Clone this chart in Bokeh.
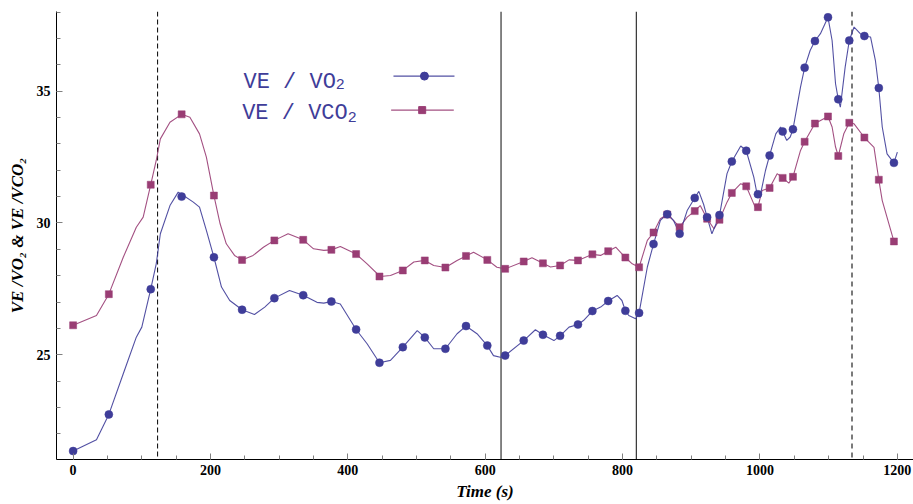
from bokeh.plotting import figure
from bokeh.models import Range1d, SingleIntervalTicker, Span, Label
from bokeh.embed import file_html
from bokeh.resources import INLINE

# ---------------- data ----------------
vo2_line_t = [0, 34, 52, 73, 92, 100, 113, 121, 127, 141, 153, 160, 175, 184, 194, 205, 216, 228, 246, 264,
              279, 293, 315, 335, 355, 365, 376, 389, 412, 428, 446, 462, 480, 501, 512, 525, 542, 559, 572, 588,
              603, 612, 622, 629, 656, 673, 684, 700, 709, 722, 735, 743, 756, 768, 779, 792, 799, 804, 809, 819,
              824, 836, 845, 855, 865, 874, 883, 894, 905, 911, 918, 923, 930, 941, 952, 959, 972, 980, 991, 996,
              1001, 1008, 1014, 1023, 1030, 1033, 1039, 1044, 1048, 1059, 1065, 1073, 1080, 1088, 1099, 1105,
              1110, 1114, 1117, 1124, 1130, 1137, 1146, 1152, 1161, 1168, 1173, 1178, 1185, 1195, 1200]
vo2_line_v = [21.35, 21.78, 22.74, 24.28, 25.67, 26.05, 27.49, 28.45, 29.59, 30.66, 31.17, 31.05, 30.79, 30.60,
              29.72, 28.70, 27.57, 27.06, 26.71, 26.53, 26.81, 27.15, 27.44, 27.26, 26.99, 26.96, 27.02, 26.93,
              25.96, 25.42, 24.70, 24.79, 25.29, 25.92, 25.66, 25.23, 25.23, 25.80, 26.09, 25.80, 25.35, 24.97,
              24.91, 24.97, 25.54, 25.95, 25.76, 25.54, 25.72, 26.05, 26.15, 26.30, 26.66, 26.81, 27.04, 27.25,
              27.06, 26.67, 26.49, 26.37, 26.59, 28.33, 29.20, 30.10, 30.35, 30.10, 29.59, 30.47, 30.95, 31.20,
              30.70, 30.22, 29.59, 30.28, 31.87, 32.33, 32.92, 32.74, 31.74, 31.07, 31.11, 31.99, 32.56, 33.38,
              33.64, 33.47, 33.13, 33.26, 33.55, 35.15, 35.89, 36.54, 36.90, 37.18, 37.80, 36.92, 35.28, 34.69,
              34.39, 35.91, 36.92, 37.43, 37.18, 37.09, 37.05, 36.17, 35.12, 33.64, 32.62, 32.28, 32.69]

vco2_line_t = [0, 34, 52, 73, 92, 102, 113, 121, 127, 141, 158, 170, 184, 194, 205, 214, 223, 235, 246, 262,
               277, 293, 313, 335, 350, 365, 376, 389, 412, 428, 447, 462, 480, 496, 512, 525, 542, 559, 572, 583,
               603, 617, 629, 656, 668, 684, 695, 709, 722, 735, 756, 768, 779, 790, 804, 814, 824, 836, 845, 855,
               865, 874, 883, 894, 905, 913, 923, 933, 941, 952, 959, 972, 980, 993, 997, 1003, 1014, 1025, 1033,
               1042, 1048, 1059, 1065, 1080, 1099, 1105, 1110, 1114, 1122, 1130, 1137, 1152, 1166, 1173, 1178, 1195]
vco2_line_v = [26.12, 26.49, 27.30, 28.70, 29.84, 30.22, 31.45, 32.37, 33.19, 33.82, 34.12, 34.01, 33.38, 32.50,
               31.04, 29.97, 29.21, 28.77, 28.60, 28.77, 29.08, 29.34, 29.59, 29.36, 29.02, 28.96, 28.98, 29.11,
               28.82, 28.45, 27.97, 28.01, 28.20, 28.52, 28.58, 28.39, 28.31, 28.58, 28.75, 28.89, 28.60, 28.32,
               28.26, 28.54, 28.68, 28.47, 28.33, 28.39, 28.60, 28.58, 28.81, 28.77, 28.93, 29.08, 28.69, 28.45,
               28.32, 29.34, 29.64, 30.16, 30.32, 30.10, 29.84, 30.22, 30.45, 30.66, 30.16, 29.78, 30.12, 30.79,
               31.14, 31.49, 31.39, 30.60, 30.60, 31.23, 31.33, 31.87, 31.71, 31.51, 31.75, 32.75, 33.08, 33.77,
               34.04, 33.64, 32.88, 32.54, 33.38, 33.80, 33.76, 33.24, 32.87, 31.64, 30.85, 29.30]

mark_t = [0, 52, 113, 158, 205, 246, 293, 335, 376, 412, 446, 480, 512, 542, 572, 603, 629, 656, 684, 709,
          735, 756, 779, 804, 824, 845, 865, 883, 905, 923, 941, 959, 980, 997, 1014, 1033, 1048, 1065, 1080,
          1099, 1114, 1130, 1152, 1173, 1195]
vo2_mark = [21.35, 22.74, 27.49, 31.00, 28.70, 26.71, 27.15, 27.26, 27.02, 25.96, 24.70, 25.29, 25.66, 25.23,
            26.09, 25.35, 24.97, 25.54, 25.76, 25.72, 26.15, 26.66, 27.04, 26.67, 26.59, 29.20, 30.33, 29.59,
            30.95, 30.22, 30.30, 32.33, 32.74, 31.09, 32.56, 33.47, 33.55, 35.89, 36.90, 37.80, 34.69, 36.92,
            37.09, 35.12, 32.28]
vco2_mark = [26.12, 27.30, 31.45, 34.12, 31.04, 28.60, 29.34, 29.36, 28.98, 28.82, 27.97, 28.20, 28.58, 28.31,
             28.75, 28.60, 28.26, 28.54, 28.47, 28.39, 28.58, 28.81, 28.93, 28.69, 28.32, 29.64, 30.32, 29.84,
             30.45, 30.16, 30.12, 31.14, 31.39, 30.60, 31.33, 31.71, 31.75, 33.08, 33.77, 34.04, 32.54, 33.80,
             33.24, 31.64, 29.30]

dashed_events = [123]
solid_events = [623, 820]
gray_dashed_events = [1134]

series_main = ["VE / VO", "VE / VCO"]
series_sub = ["2", "2"]
x_title = "Time (s)"
y_title = "VE /VO₂ & VE /VCO₂"

# ---------------- style ----------------
BLUE = "#3f3d99"
MAG = "#993d74"
SERIF = "Liberation Serif"

p = figure(width=913, height=504,
           x_range=Range1d(-24.2, 1223.5), y_range=Range1d(21.03, 38.02),
           output_backend="svg", toolbar_location=None,
           min_border_left=56, min_border_right=0, min_border_top=11, min_border_bottom=45)
p.outline_line_color = None
p.grid.visible = False
p.background_fill_color = "white"

for ev in dashed_events:
    p.add_layout(Span(location=ev, dimension="height", line_color="black", line_width=1,
                      line_dash="5 3", level="underlay"))
for ev in solid_events:
    p.add_layout(Span(location=ev, dimension="height", line_color="#333333", line_width=1.2,
                      level="underlay"))
for ev in gray_dashed_events:
    p.add_layout(Span(location=ev, dimension="height", line_color="#7a7a7a", line_width=2,
                      line_dash="5 4", level="underlay"))

p.line(vco2_line_t, vco2_line_v, line_color=MAG, line_width=1.1, line_alpha=0.9)
p.line(vo2_line_t, vo2_line_v, line_color=BLUE, line_width=1.1, line_alpha=0.9)
p.scatter(mark_t, vco2_mark, marker="square", size=7, fill_color=MAG, line_color=MAG, line_width=0.5)
p.scatter(mark_t, vo2_mark, marker="circle", size=8, fill_color=BLUE, line_color=BLUE, line_width=0.5)

# axes
for ax in (p.xaxis[0], p.yaxis[0]):
    ax.axis_line_color = "black"
    ax.axis_line_width = 1
    ax.major_tick_in = 6
    ax.major_tick_out = 0
    ax.minor_tick_in = 4
    ax.minor_tick_out = 0
    ax.major_tick_line_color = "#808080"
    ax.minor_tick_line_color = "#808080"
    ax.major_label_text_font = SERIF
    ax.major_label_text_font_style = "bold"
    ax.major_label_text_font_size = "14px"
    ax.major_label_text_color = "black"
    ax.axis_label_text_font = SERIF
    ax.axis_label_text_font_style = "bold italic"
    ax.axis_label_text_font_size = "17px"
    ax.axis_label_text_color = "black"

p.xaxis.ticker = SingleIntervalTicker(interval=200, num_minor_ticks=4)
p.yaxis.ticker = SingleIntervalTicker(interval=5, num_minor_ticks=5)
p.xaxis.axis_label = x_title
p.yaxis.axis_label = y_title
p.xaxis.major_label_standoff = 5
p.xaxis.axis_label_standoff = 4
p.yaxis.major_label_standoff = 6
p.yaxis.axis_label_standoff = 7

# legend (custom: text then line+marker)
leg_text_x = [248.0, 246.1]
leg_text_y = [35.34, 34.14]
leg_sub_x = [382.5, 399.9]
leg_sub_y = [35.28, 34.01]
leg_line_x0 = [466.4, 463.0]
leg_line_x1 = [555.2, 554.2]
leg_mark_x = [511.5, 508.2]
leg_y = [35.57, 34.28]
colors = [BLUE, MAG]
markers = ["circle", "square"]
msizes = [8, 7]
for i in range(2):
    p.add_layout(Label(x=leg_text_x[i], y=leg_text_y[i], text=series_main[i],
                       text_font="Liberation Mono", text_font_size="22px", text_color=BLUE,
                       text_baseline="alphabetic", text_align="left"))
    p.add_layout(Label(x=leg_sub_x[i], y=leg_sub_y[i], text=series_sub[i],
                       text_font="Liberation Mono", text_font_size="15px", text_color=BLUE,
                       text_baseline="alphabetic", text_align="left"))
    p.line([leg_line_x0[i], leg_line_x1[i]], [leg_y[i], leg_y[i]], line_color=colors[i],
           line_width=1.1, line_alpha=0.9)
    p.scatter([leg_mark_x[i]], [leg_y[i]], marker=markers[i], size=msizes[i],
              fill_color=colors[i], line_color=colors[i])

open("out.html", "w").write(file_html(p, INLINE))
